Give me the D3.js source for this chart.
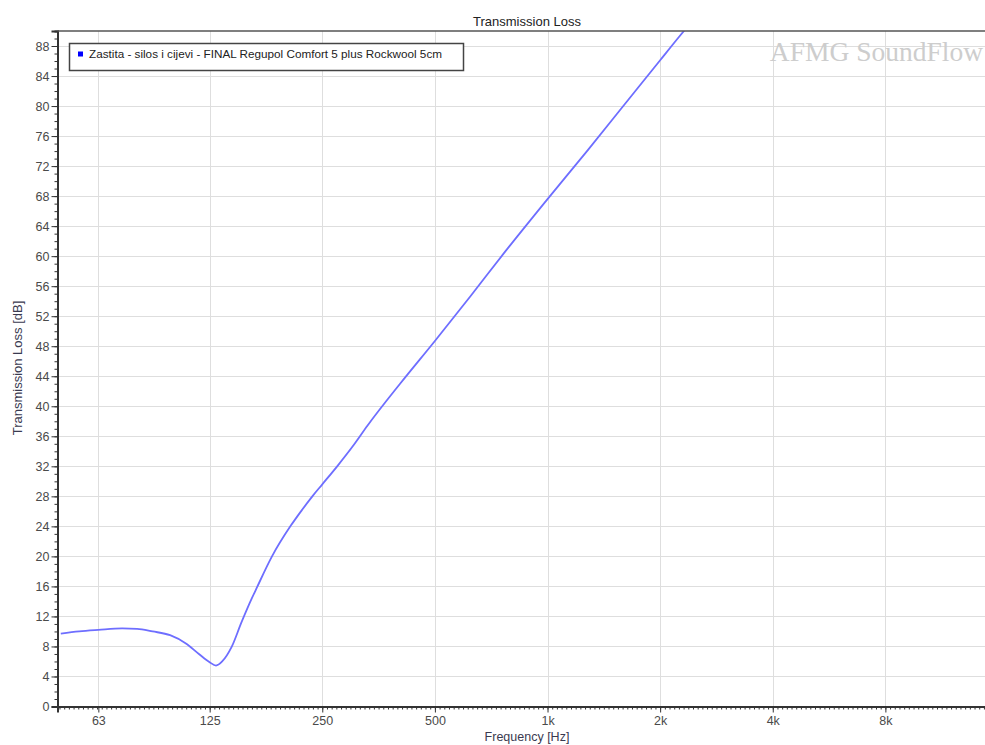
<!DOCTYPE html>
<html>
<head>
<meta charset="utf-8">
<script src="https://cdn.jsdelivr.net/npm/d3@7"></script>
<style>
    body { margin: 0; background: #fff; }
    svg { display: block; font-family: "Liberation Sans", Arial, sans-serif; }
</style>
</head>
<body>
<script>
// values
const freqs = [50, 56, 63, 73, 80, 88, 98, 108, 117, 125, 130, 135, 143, 152, 162, 167, 183, 206, 220, 236, 250, 275, 304, 330, 405, 500, 623, 762, 1000, 1280, 1600, 2000, 2245, 2500];
const lossDb = [9.7, 10.0, 10.2, 10.4, 10.35, 10.0, 9.5, 8.4, 7.0, 5.9, 5.45, 6.0, 7.9, 11.2, 14.4, 15.8, 19.9, 24.1, 26.1, 28.1, 29.6, 32.1, 34.9, 37.4, 43.1, 48.7, 54.7, 60.3, 67.6, 74.1, 80.1, 86.1, 89.2, 92.0];

const freqTicks = [63, 125, 250, 500, 1000, 2000, 4000, 8000];
const freqLabels = ["63", "125", "250", "500", "1k", "2k", "4k", "8k"];
const dbTicks = d3.range(0, 89, 4);

const seriesName = "Zastita - silos i cijevi - FINAL Regupol Comfort 5 plus  Rockwool 5cm";

const width = 985, height = 745;
const mLeft = 57.5, mTop = 31, mBottom = 706.5, mRight = 998;

const svg = d3.select("body").append("svg")
    .attr("width", width)
    .attr("height", height);

const x = d3.scaleLog().domain([49, 16000]).range([mLeft, mRight]);
const y = d3.scaleLinear().domain([0, 90]).range([mBottom, mTop]);

svg.append("defs").append("clipPath").attr("id", "plot")
    .append("rect")
    .attr("x", mLeft).attr("y", mTop)
    .attr("width", mRight - mLeft).attr("height", mBottom - mTop);

// grid
const grid = svg.append("g").attr("stroke", "#dedede").attr("stroke-width", 1);
grid.selectAll(".gx").data(freqTicks).join("line")
    .attr("x1", d => Math.round(x(d)) + 0.5).attr("x2", d => Math.round(x(d)) + 0.5)
    .attr("y1", mTop).attr("y2", mBottom);
grid.selectAll(".gy").data(dbTicks.filter(d => d > 0)).join("line")
    .attr("x1", mLeft).attr("x2", width)
    .attr("y1", d => Math.round(y(d)) + 0.5).attr("y2", d => Math.round(y(d)) + 0.5);

// watermark
svg.append("text")
    .attr("x", 983).attr("y", 61)
    .attr("text-anchor", "end")
    .attr("font-family", "Liberation Serif, Times New Roman, serif")
    .attr("font-size", 27.5)
    .attr("fill", "#cdcdcd")
    .text("AFMG SoundFlow");

// curve
const line = d3.line()
    .x((d, i) => x(freqs[i]))
    .y(d => y(d))
    .curve(d3.curveMonotoneX);

svg.append("path")
    .datum(lossDb)
    .attr("clip-path", "url(#plot)")
    .attr("fill", "none")
    .attr("stroke", "#6e6eff")
    .attr("stroke-width", 1.8)
    .attr("d", line);

// y axis
const minorDb = d3.range(0, 91, 1);
const yMinor = svg.append("g").attr("transform", `translate(${mLeft},0)`)
    .call(d3.axisLeft(y).tickValues(minorDb).tickSize(3).tickFormat(""));
const yAxis = svg.append("g").attr("transform", `translate(${mLeft},0)`)
    .call(d3.axisLeft(y).tickValues(dbTicks).tickSize(6).tickPadding(2));

// x axis
const minorF = d3.range(-40, 200).map(k => 62.5 * Math.pow(2, k / 24)).filter(f => f >= 49 && f <= 16000);
const xMinor = svg.append("g").attr("transform", `translate(0,${mBottom})`)
    .call(d3.axisBottom(x).tickValues(minorF).tickSize(3).tickFormat(""));
const xAxis = svg.append("g").attr("transform", `translate(0,${mBottom})`)
    .call(d3.axisBottom(x).tickValues(freqTicks).tickSize(6).tickPadding(4)
        .tickFormat((d, i) => freqLabels[i]));

[yMinor, yAxis, xMinor, xAxis].forEach(g => {
    g.selectAll("line").attr("stroke", "#333");
    g.select(".domain").attr("stroke", "#333").attr("stroke-width", 2);
    g.selectAll("text").attr("fill", "#4a4a4a").attr("font-size", 12.5)
        .attr("font-family", "Liberation Sans, Arial, sans-serif");
});

// top border
svg.append("line")
    .attr("x1", mLeft).attr("x2", width)
    .attr("y1", mTop).attr("y2", mTop)
    .attr("stroke", "#555").attr("stroke-width", 1.6);

// titles
svg.append("text")
    .attr("x", 527).attr("y", 26)
    .attr("text-anchor", "middle")
    .attr("font-size", 13)
    .attr("fill", "#222")
    .text("Transmission Loss");

svg.append("text")
    .attr("x", 527).attr("y", 741)
    .attr("text-anchor", "middle")
    .attr("font-size", 12.5)
    .attr("fill", "#3a3a50")
    .text("Frequency [Hz]");

svg.append("text")
    .attr("transform", `translate(22,368) rotate(-90)`)
    .attr("text-anchor", "middle")
    .attr("font-size", 13)
    .attr("fill", "#3a3a50")
    .text("Transmission Loss [dB]");

// legend
const legend = svg.append("g");
legend.append("rect")
    .attr("x", 69.5).attr("y", 43.5)
    .attr("width", 394).attr("height", 27)
    .attr("fill", "#fff")
    .attr("stroke", "#444").attr("stroke-width", 1.5);
legend.append("rect")
    .attr("x", 78).attr("y", 51.5)
    .attr("width", 5).attr("height", 5)
    .attr("fill", "#0000ff");
legend.append("text")
    .attr("x", 89).attr("y", 58)
    .attr("font-size", 10.5)
    .attr("fill", "#222")
    .attr("textLength", 353)
    .attr("lengthAdjust", "spacingAndGlyphs")
    .text(seriesName);
</script>
</body>
</html>
